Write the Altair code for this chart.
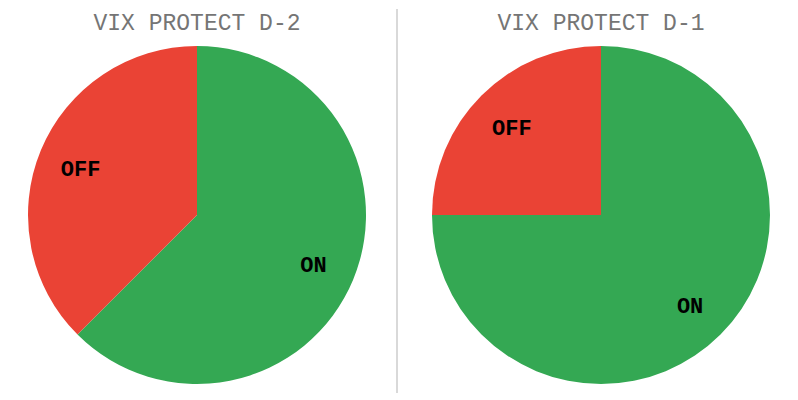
import altair as alt
import pandas as pd

# Data
panel_titles = ["VIX PROTECT D-2", "VIX PROTECT D-1"]
statuses = ["ON", "OFF"]
status_order = [0, 1]
d2_values = [62.5, 37.5]
d1_values = [75.0, 25.0]

colors = ["#34A853", "#EA4335"]
MONO = "Courier New, Liberation Mono, monospace"

PANEL_W = 378
PANEL_H = 338


def pie(title, values, with_divider):
    df = pd.DataFrame({"status": statuses, "value": values, "order": status_order})
    base = alt.Chart(df).encode(
        theta=alt.Theta("value:Q", stack=True),
        order=alt.Order("order:Q"),
    )
    arc = base.mark_arc().encode(
        color=alt.Color(
            "status:N",
            scale=alt.Scale(domain=statuses, range=colors),
            legend=None,
        )
    )
    labels = base.mark_text(
        radius=126,
        font=MONO,
        fontSize=22,
        fontWeight="bold",
        color="#000000",
        align="center",
        baseline="middle",
        dy=2,
    ).encode(text="status:N")
    heading = alt.Chart(pd.DataFrame({"title": [title]})).mark_text(
        font=MONO,
        fontSize=23,
        fontWeight="normal",
        color="#757575",
        align="center",
        baseline="alphabetic",
    ).encode(
        text="title:N",
        x=alt.value(PANEL_W / 2),
        y=alt.value(-16),
    )
    layers = [arc, labels, heading]
    if with_divider:
        divider = alt.Chart(pd.DataFrame({"d": [0]})).mark_rule(
            color="#cccccc", strokeWidth=1.5
        ).encode(
            x=alt.value(389),
            y=alt.value(-37),
            y2=alt.value(347),
        )
        layers.append(divider)
    return alt.layer(*layers).properties(width=PANEL_W, height=PANEL_H)


chart = alt.hconcat(
    pie(panel_titles[0], d2_values, True),
    pie(panel_titles[1], d1_values, False),
    spacing=26,
    bounds="flush",
).properties(padding=0).configure_view(stroke=None)

chart.save("out.html", embed_options={"renderer": "svg", "actions": False})
